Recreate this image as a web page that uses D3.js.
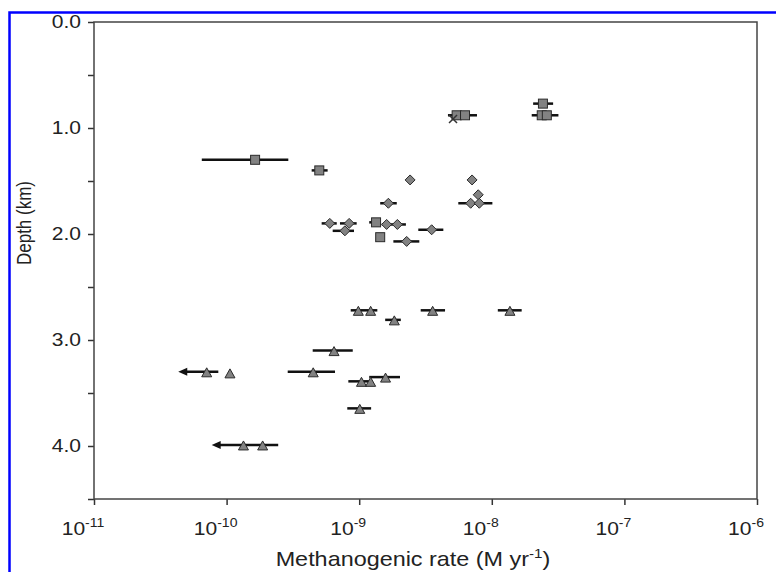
<!DOCTYPE html>
<html>
<head>
<meta charset="utf-8">
<script src="https://cdn.jsdelivr.net/npm/d3@7"></script>
<style>
  body { margin: 0; background: #fff; }
  svg { display: block; }
</style>
</head>
<body>
<div id="chart"></div>
<script>
// each point: [rate (M/yr), depth (km), error low, error high, arrow to the left]
const squares = [
  [2.43e-8, 0.77, 2.05e-8, 2.9e-8, false],
  [2.38e-8, 0.88, null, null, false],
  [2.6e-8, 0.88, 2.0e-8, 3.18e-8, false],
  [5.43e-9, 0.88, null, null, false],
  [6.28e-9, 0.88, 4.67e-9, 7.73e-9, false],
  [1.64e-10, 1.30, 6.5e-11, 2.92e-10, false],
  [5.0e-10, 1.40, 4.38e-10, 5.78e-10, false],
  [1.34e-9, 1.89, 1.19e-9, 1.44e-9, false],
  [1.44e-9, 2.03, null, null, false]
];

const diamonds = [
  [2.42e-9, 1.49, null, null, false],
  [7.1e-9, 1.49, null, null, false],
  [1.66e-9, 1.71, 1.44e-9, 1.92e-9, false],
  [7.9e-9, 1.63, null, null, false],
  [6.93e-9, 1.71, 5.59e-9, 1.01e-8, false],
  [8.05e-9, 1.71, null, null, false],
  [6.0e-10, 1.90, 5.21e-10, 6.77e-10, false],
  [8.4e-10, 1.90, 7.16e-10, 9.57e-10, false],
  [7.8e-10, 1.97, 6.31e-10, 9.14e-10, false],
  [1.61e-9, 1.91, 1.48e-9, 2.25e-9, false],
  [1.94e-9, 1.91, null, null, false],
  [2.28e-9, 2.07, 1.81e-9, 2.84e-9, false],
  [3.52e-9, 1.96, 2.79e-9, 4.31e-9, false]
];

const triangles = [
  [9.85e-10, 2.72, 8.63e-10, 1.37e-9, false],
  [1.22e-9, 2.72, null, null, false],
  [1.84e-9, 2.81, 1.57e-9, 2.06e-9, false],
  [3.58e-9, 2.72, 2.91e-9, 4.44e-9, false],
  [1.37e-8, 2.72, 1.11e-8, 1.68e-8, false],
  [6.46e-10, 3.10, 4.46e-10, 8.94e-10, false],
  [7.08e-11, 3.30, 4.32e-11, 8.66e-11, true],
  [1.06e-10, 3.31, null, null, false],
  [4.5e-10, 3.30, 2.89e-10, 6.57e-10, false],
  [1.04e-9, 3.39, 8.28e-10, 1.21e-9, false],
  [1.22e-9, 3.39, null, null, false],
  [1.58e-9, 3.35, 1.19e-9, 2.03e-9, false],
  [1.01e-9, 3.645, 8.13e-10, 1.23e-9, false],
  [1.34e-10, 3.99, 7.72e-11, 2.45e-10, true],
  [1.87e-10, 3.99, null, null, false]
];

const crosses = [
  [5.1e-9, 0.915]
];

const xTickExp = [-11, -10, -9, -8, -7, -6];
const yTicks = [0, 0.5, 1, 1.5, 2, 2.5, 3, 3.5, 4, 4.5];

const width = 776, height = 572;
const margin = {top: 22, right: 19, bottom: 73, left: 94};
const visWidth = width - margin.left - margin.right;
const visHeight = height - margin.top - margin.bottom;
const font = "'Liberation Sans', Arial, sans-serif";
const stretch = 1.17; // the source figure is a bit wider than tall

const svg = d3.select("#chart").append("svg")
    .attr("width", width)
    .attr("height", height);

// blue frame around the figure
svg.append("rect")
  .attr("x", 9.5)
  .attr("y", 12.5)
  .attr("width", 800)
  .attr("height", 600)
  .attr("fill", "none")
  .attr("stroke", "#0000ff")
  .attr("stroke-width", 2.5);

const g = svg.append("g")
  .attr("transform", `translate(${margin.left}, ${margin.top})`);

const x = d3.scaleLog()
  .domain([1e-11, 1e-6])
  .range([0, visWidth]);

const y = d3.scaleLinear()
  .domain([0, 4.5])
  .range([0, visHeight]);

// axes
const yAxis = d3.axisLeft(y)
  .tickValues(yTicks)
  .tickSize(6)
  .tickPadding(7)
  .tickFormat(d => Number.isInteger(d) ? d3.format(".1f")(d) : "");

g.append("g")
  .call(yAxis)
  .call(a => a.select(".domain").remove())
  .call(a => a.selectAll("line").attr("stroke", "#333").attr("stroke-width", 1.5))
  .call(a => a.selectAll("text")
    .attr("x", -13 / stretch)
    .attr("transform", `scale(${stretch},1)`)
    .attr("fill", "#222")
    .attr("font-family", font)
    .attr("font-size", 18));

const xAxis = d3.axisBottom(x)
  .tickValues(xTickExp.map(e => Math.pow(10, e)))
  .tickSize(6)
  .tickFormat("");

g.append("g")
  .attr("transform", `translate(0, ${visHeight})`)
  .call(xAxis)
  .call(a => a.select(".domain").remove())
  .call(a => a.selectAll("line").attr("stroke", "#333").attr("stroke-width", 1.5));

// tick labels as 10 with superscript exponent
const xl = g.append("g")
  .selectAll("text")
  .data(xTickExp)
  .join("text")
    .attr("transform", d => `translate(${x(Math.pow(10, d)) - 11}, ${visHeight + 36}) scale(${stretch},1)`)
    .attr("text-anchor", "middle")
    .attr("fill", "#222")
    .attr("font-family", font)
    .attr("font-size", 18);
xl.append("tspan").text("10");
xl.append("tspan")
  .attr("font-size", 12)
  .attr("dy", -8)
  .text(d => d);

// frame of the plot
g.append("rect")
  .attr("width", visWidth)
  .attr("height", visHeight)
  .attr("fill", "none")
  .attr("stroke", "#444")
  .attr("stroke-width", 1.5);

// axis titles
const xt = svg.append("text")
  .attr("transform", `translate(413, 566) scale(${stretch},1)`)
  .attr("text-anchor", "middle")
  .attr("fill", "#222")
  .attr("font-family", font)
  .attr("font-size", 20);
xt.append("tspan").text("Methanogenic rate (M yr");
xt.append("tspan").attr("font-size", 13).attr("dy", -8).text("-1");
xt.append("tspan").attr("dy", 8).text(")");

svg.append("text")
  .attr("transform", `translate(31, 223) rotate(-90) scale(1,${stretch})`)
  .attr("text-anchor", "middle")
  .attr("fill", "#222")
  .attr("font-family", font)
  .attr("font-size", 17)
  .text("Depth (km)");

// error bars
const all = [...squares, ...diamonds, ...triangles].filter(d => d[2] !== null);
const bars = g.append("g");
bars.selectAll("line")
  .data(all)
  .join("line")
    .attr("x1", d => x(d[2]) + (d[4] ? 4 : 0))
    .attr("x2", d => x(d[3]))
    .attr("y1", d => y(d[1]))
    .attr("y2", d => y(d[1]))
    .attr("stroke", "#111")
    .attr("stroke-width", 2.5);

bars.selectAll("path")
  .data(all.filter(d => d[4]))
  .join("path")
    .attr("d", d => {
      const px = x(d[2]), py = y(d[1]);
      return `M${px},${py} L${px + 9},${py - 4} L${px + 9},${py + 4} Z`;
    })
    .attr("fill", "#111");

const markerFill = "#828282";
const markerStroke = "#2a2a2a";

// squares
g.append("g")
  .selectAll("rect")
  .data(squares)
  .join("rect")
    .attr("x", d => x(d[0]) - 4.5)
    .attr("y", d => y(d[1]) - 4.5)
    .attr("width", 9)
    .attr("height", 9)
    .attr("fill", markerFill)
    .attr("stroke", markerStroke)
    .attr("stroke-width", 1);

// diamonds
g.append("g")
  .selectAll("path")
  .data(diamonds)
  .join("path")
    .attr("d", d => {
      const px = x(d[0]), py = y(d[1]);
      return `M${px},${py - 5} L${px + 5},${py} L${px},${py + 5} L${px - 5},${py} Z`;
    })
    .attr("fill", markerFill)
    .attr("stroke", markerStroke)
    .attr("stroke-width", 1);

// triangles
g.append("g")
  .selectAll("path")
  .data(triangles)
  .join("path")
    .attr("d", d => {
      const px = x(d[0]), py = y(d[1]);
      return `M${px},${py - 4} L${px + 5},${py + 5} L${px - 5},${py + 5} Z`;
    })
    .attr("fill", markerFill)
    .attr("stroke", markerStroke)
    .attr("stroke-width", 1);

// crosses
g.append("g")
  .selectAll("path")
  .data(crosses)
  .join("path")
    .attr("d", d => {
      const px = x(d[0]), py = y(d[1]);
      return `M${px - 4},${py - 4} L${px + 4},${py + 4} M${px - 4},${py + 4} L${px + 4},${py - 4}`;
    })
    .attr("stroke", "#333")
    .attr("stroke-width", 1.5);
</script>
</body>
</html>
